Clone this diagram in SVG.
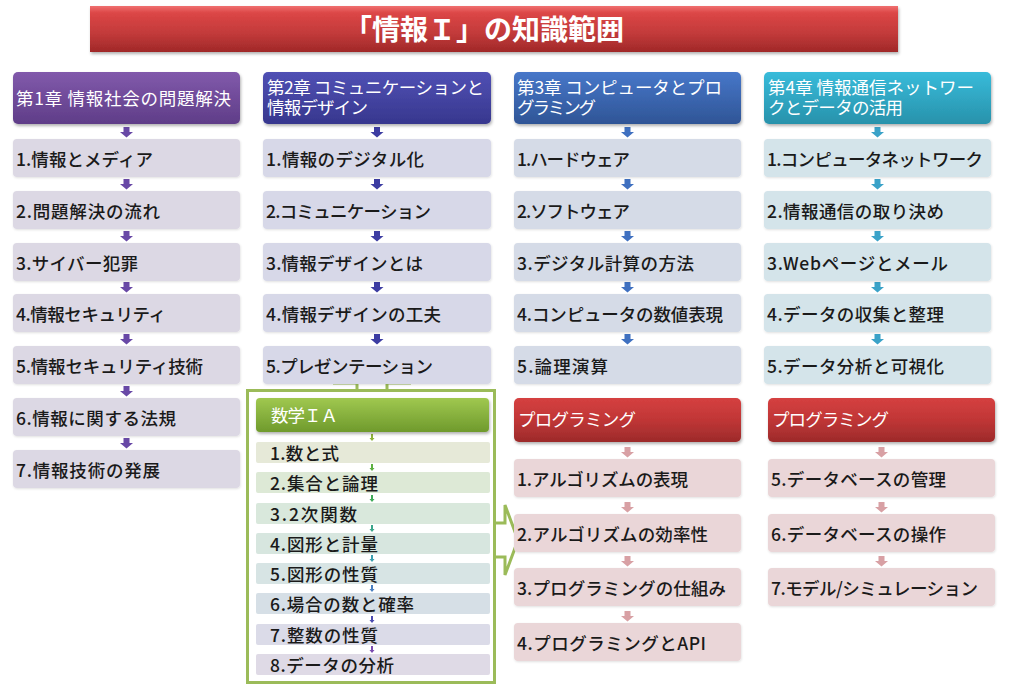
<svg xmlns="http://www.w3.org/2000/svg" width="1024" height="687" viewBox="0 0 1024 687">
<defs>
<linearGradient id="gTitle" x1="0" y1="0" x2="0" y2="1"><stop offset="0" stop-color="#f07070"/><stop offset="0.15" stop-color="#dc4646"/><stop offset="0.6" stop-color="#c23a3a"/><stop offset="1" stop-color="#a02828"/></linearGradient>
<linearGradient id="g1" x1="0" y1="0" x2="0" y2="1"><stop offset="0" stop-color="#8159ab"/><stop offset="1" stop-color="#5f3d88"/></linearGradient>
<linearGradient id="g2" x1="0" y1="0" x2="0" y2="1"><stop offset="0" stop-color="#5050b4"/><stop offset="1" stop-color="#37378e"/></linearGradient>
<linearGradient id="g3" x1="0" y1="0" x2="0" y2="1"><stop offset="0" stop-color="#4777c9"/><stop offset="1" stop-color="#2f5596"/></linearGradient>
<linearGradient id="g4" x1="0" y1="0" x2="0" y2="1"><stop offset="0" stop-color="#38bbda"/><stop offset="1" stop-color="#2892ab"/></linearGradient>
<linearGradient id="gP" x1="0" y1="0" x2="0" y2="1"><stop offset="0" stop-color="#d54040"/><stop offset="0.5" stop-color="#c03636"/><stop offset="1" stop-color="#9c2a2a"/></linearGradient>
<linearGradient id="gM" x1="0" y1="0" x2="0" y2="1"><stop offset="0" stop-color="#a0c850"/><stop offset="1" stop-color="#6f9a2c"/></linearGradient>
<filter id="sh" x="-5%" y="-10%" width="110%" height="130%"><feDropShadow dx="1" dy="2" stdDeviation="1.5" flood-color="#000" flood-opacity="0.3"/></filter>
<filter id="shl" x="-5%" y="-10%" width="110%" height="130%"><feDropShadow dx="0.5" dy="1" stdDeviation="1" flood-color="#000" flood-opacity="0.12"/></filter>
<path id="arr" d="M-3,0 h6 v5 h3.5 l-6.5,5.5 l-6.5,-5.5 h3.5 z"/>
<path id="tarr" d="M-1,0 h2 v4 h1.5 l-2.5,3 l-2.5,-3 h1.5 z"/>
</defs>
<style>
text{font-family:"Noto Sans CJK JP","Noto Sans",sans-serif;}
.ttl{font-size:28px;font-weight:bold;fill:#fff;}
.hd{font-size:17.5px;font-weight:normal;fill:#fff;}
.it{font-size:17.5px;font-weight:500;fill:#1a1a1a;}
.mt{font-size:17.5px;font-weight:500;fill:#1a1a1a;}
.hbox{filter:url(#sh);}
.ibox{filter:url(#shl);}
</style>
<rect width="1024" height="687" fill="#fff"/>

<g id="title">
<rect x="90" y="6" width="808" height="46" fill="url(#gTitle)" filter="url(#sh)"/>
<text class="ttl" x="484" y="40" text-anchor="middle">「情報Ｉ」の知識範囲</text>
</g>

<g id="connectors">
<g fill="#6848a6">
<use href="#arr" x="126.5" y="127"/><use href="#arr" x="126.5" y="179"/><use href="#arr" x="126.5" y="231"/><use href="#arr" x="126.5" y="282"/><use href="#arr" x="126.5" y="334"/><use href="#arr" x="126.5" y="386"/><use href="#arr" x="126.5" y="438"/>
</g>
<g fill="#3c3ca2">
<use href="#arr" x="377" y="127"/><use href="#arr" x="377" y="179"/><use href="#arr" x="377" y="231"/><use href="#arr" x="377" y="282"/><use href="#arr" x="377" y="334"/>
</g>
<g fill="#3f70c0">
<use href="#arr" x="627.5" y="127"/><use href="#arr" x="627.5" y="179"/><use href="#arr" x="627.5" y="231"/><use href="#arr" x="627.5" y="282"/><use href="#arr" x="627.5" y="334"/>
</g>
<g fill="#3aa2c8">
<use href="#arr" x="877.5" y="127"/><use href="#arr" x="877.5" y="179"/><use href="#arr" x="877.5" y="231"/><use href="#arr" x="877.5" y="282"/><use href="#arr" x="877.5" y="334"/>
</g>
<g fill="#d8a0a4">
<use href="#arr" x="627.5" y="447"/><use href="#arr" x="627.5" y="502"/><use href="#arr" x="627.5" y="556"/><use href="#arr" x="627.5" y="611"/>
<use href="#arr" x="881.5" y="447"/><use href="#arr" x="881.5" y="502"/><use href="#arr" x="881.5" y="556"/>
</g>
<use href="#tarr" x="372" y="434" fill="#8db33a"/>
<use href="#tarr" x="372" y="464" fill="#5cb040"/>
<use href="#tarr" x="372" y="495" fill="#3faa5a"/>
<use href="#tarr" x="372" y="525" fill="#3aa58a"/>
<use href="#tarr" x="372" y="555" fill="#3a9fb0"/>
<use href="#tarr" x="372" y="585" fill="#4a7fc0"/>
<use href="#tarr" x="372" y="616" fill="#4a4ab0"/>
<use href="#tarr" x="372" y="646" fill="#7a4ab0"/>
<path d="M357,391 V383 H333 L372,372 L411,383 H387 V391" fill="#fff" stroke="#9bbb59" stroke-width="3" stroke-linejoin="miter"/>
<path d="M494,523 H505 V505 L518,540 L505,575 V557 H494" fill="#fff" stroke="#9bbb59" stroke-width="3" stroke-linejoin="miter"/>
</g>

<g id="chapter1">
<rect class="hbox" x="13" y="72" width="227" height="52" rx="5" fill="url(#g1)"/>
<text class="hd" x="16" y="105" textLength="215" lengthAdjust="spacing">第1章 情報社会の問題解決</text>
</g>
<g id="c1-items" fill="#dcd8e4">
<g id="c1i1"><rect class="ibox" x="13" y="139" width="227" height="38" rx="4"/><text class="it" x="16" y="166" textLength="137" lengthAdjust="spacing">1.情報とメディア</text></g>
<g id="c1i2"><rect class="ibox" x="13" y="191" width="227" height="38" rx="4"/><text class="it" x="16" y="218" textLength="144" lengthAdjust="spacing">2.問題解決の流れ</text></g>
<g id="c1i3"><rect class="ibox" x="13" y="243" width="227" height="38" rx="4"/><text class="it" x="16" y="270" textLength="122" lengthAdjust="spacing">3.サイバー犯罪</text></g>
<g id="c1i4"><rect class="ibox" x="13" y="294" width="227" height="38" rx="4"/><text class="it" x="16" y="321" textLength="150" lengthAdjust="spacing">4.情報セキュリティ</text></g>
<g id="c1i5"><rect class="ibox" x="13" y="346" width="227" height="38" rx="4"/><text class="it" x="16" y="373" textLength="187" lengthAdjust="spacing">5.情報セキュリティ技術</text></g>
<g id="c1i6"><rect class="ibox" x="13" y="398" width="227" height="38" rx="4"/><text class="it" x="16" y="425" textLength="160" lengthAdjust="spacing">6.情報に関する法規</text></g>
<g id="c1i7"><rect class="ibox" x="13" y="450" width="227" height="38" rx="4"/><text class="it" x="16" y="477" textLength="144" lengthAdjust="spacing">7.情報技術の発展</text></g>
</g>

<g id="chapter2">
<rect class="hbox" x="263" y="72" width="228" height="52" rx="5" fill="url(#g2)"/>
<text class="hd"><tspan x="267" y="94" textLength="217" lengthAdjust="spacing">第2章 コミュニケーションと</tspan><tspan x="267" y="114" textLength="101" lengthAdjust="spacing">情報デザイン</tspan></text>
</g>
<g id="c2-items" fill="#d7d8e8">
<g id="c2i1"><rect class="ibox" x="263" y="139" width="228" height="38" rx="4"/><text class="it" x="266" y="166" textLength="158" lengthAdjust="spacing">1.情報のデジタル化</text></g>
<g id="c2i2"><rect class="ibox" x="263" y="191" width="228" height="38" rx="4"/><text class="it" x="266" y="218" textLength="165" lengthAdjust="spacing">2.コミュニケーション</text></g>
<g id="c2i3"><rect class="ibox" x="263" y="243" width="228" height="38" rx="4"/><text class="it" x="266" y="270" textLength="157" lengthAdjust="spacing">3.情報デザインとは</text></g>
<g id="c2i4"><rect class="ibox" x="263" y="294" width="228" height="38" rx="4"/><text class="it" x="266" y="321" textLength="175" lengthAdjust="spacing">4.情報デザインの工夫</text></g>
<g id="c2i5"><rect class="ibox" x="263" y="346" width="228" height="38" rx="4"/><text class="it" x="266" y="373" textLength="167" lengthAdjust="spacing">5.プレゼンテーション</text></g>
</g>

<g id="chapter3">
<rect class="hbox" x="514" y="72" width="227" height="52" rx="5" fill="url(#g3)"/>
<text class="hd"><tspan x="517" y="94" textLength="205" lengthAdjust="spacing">第3章 コンピュータとプロ</tspan><tspan x="517" y="114" textLength="79" lengthAdjust="spacing">グラミング</tspan></text>
</g>
<g id="c3-items" fill="#d5dbe7">
<g id="c3i1"><rect class="ibox" x="514" y="139" width="227" height="38" rx="4"/><text class="it" x="517" y="166" textLength="113" lengthAdjust="spacing">1.ハードウェア</text></g>
<g id="c3i2"><rect class="ibox" x="514" y="191" width="227" height="38" rx="4"/><text class="it" x="517" y="218" textLength="113" lengthAdjust="spacing">2.ソフトウェア</text></g>
<g id="c3i3"><rect class="ibox" x="514" y="243" width="227" height="38" rx="4"/><text class="it" x="517" y="270" textLength="177" lengthAdjust="spacing">3.デジタル計算の方法</text></g>
<g id="c3i4"><rect class="ibox" x="514" y="294" width="227" height="38" rx="4"/><text class="it" x="517" y="321" textLength="206" lengthAdjust="spacing">4.コンピュータの数値表現</text></g>
<g id="c3i5"><rect class="ibox" x="514" y="346" width="227" height="38" rx="4"/><text class="it" x="517" y="373" textLength="91" lengthAdjust="spacing">5.論理演算</text></g>
</g>

<g id="chapter4">
<rect class="hbox" x="764" y="72" width="227" height="52" rx="5" fill="url(#g4)"/>
<text class="hd"><tspan x="768" y="94" textLength="206" lengthAdjust="spacing">第4章 情報通信ネットワー</tspan><tspan x="768" y="114" textLength="135" lengthAdjust="spacing">クとデータの活用</tspan></text>
</g>
<g id="c4-items" fill="#d4e4ea">
<g id="c4i1"><rect class="ibox" x="764" y="139" width="227" height="38" rx="4"/><text class="it" x="767" y="166" textLength="216" lengthAdjust="spacing">1.コンピュータネットワーク</text></g>
<g id="c4i2"><rect class="ibox" x="764" y="191" width="227" height="38" rx="4"/><text class="it" x="767" y="218" textLength="177" lengthAdjust="spacing">2.情報通信の取り決め</text></g>
<g id="c4i3"><rect class="ibox" x="764" y="243" width="227" height="38" rx="4"/><text class="it" x="767" y="270" textLength="181" lengthAdjust="spacing">3.Webページとメール</text></g>
<g id="c4i4"><rect class="ibox" x="764" y="294" width="227" height="38" rx="4"/><text class="it" x="767" y="321" textLength="177" lengthAdjust="spacing">4.データの収集と整理</text></g>
<g id="c4i5"><rect class="ibox" x="764" y="346" width="227" height="38" rx="4"/><text class="it" x="767" y="373" textLength="177" lengthAdjust="spacing">5.データ分析と可視化</text></g>
</g>

<g id="prog3">
<rect class="hbox" x="514" y="398" width="227" height="44" rx="5" fill="url(#gP)"/>
<text class="hd" x="518" y="426" textLength="118" lengthAdjust="spacing">プログラミング</text>
</g>
<g id="p3-items" fill="#ead6d8">
<g id="p3i1"><rect class="ibox" x="514" y="459" width="227" height="38" rx="4"/><text class="it" x="517" y="486" textLength="171" lengthAdjust="spacing">1.アルゴリズムの表現</text></g>
<g id="p3i2"><rect class="ibox" x="514" y="514" width="227" height="38" rx="4"/><text class="it" x="517" y="541" textLength="191" lengthAdjust="spacing">2.アルゴリズムの効率性</text></g>
<g id="p3i3"><rect class="ibox" x="514" y="568" width="227" height="38" rx="4"/><text class="it" x="517" y="595" textLength="209" lengthAdjust="spacing">3.プログラミングの仕組み</text></g>
<g id="p3i4"><rect class="ibox" x="514" y="623" width="227" height="38" rx="4"/><text class="it" x="517" y="650" textLength="189" lengthAdjust="spacing">4.プログラミングとAPI</text></g>
</g>

<g id="prog4">
<rect class="hbox" x="768" y="398" width="227" height="44" rx="5" fill="url(#gP)"/>
<text class="hd" x="772" y="426" textLength="117" lengthAdjust="spacing">プログラミング</text>
</g>
<g id="p4-items" fill="#ead6d8">
<g id="p4i5"><rect class="ibox" x="768" y="459" width="227" height="38" rx="4"/><text class="it" x="771" y="486" textLength="175" lengthAdjust="spacing">5.データベースの管理</text></g>
<g id="p4i6"><rect class="ibox" x="768" y="514" width="227" height="38" rx="4"/><text class="it" x="771" y="541" textLength="175" lengthAdjust="spacing">6.データベースの操作</text></g>
<g id="p4i7"><rect class="ibox" x="768" y="568" width="227" height="38" rx="4"/><text class="it" x="771" y="595" textLength="207" lengthAdjust="spacing">7.モデル/シミュレーション</text></g>
</g>

<g id="math">
<rect x="247.5" y="390.5" width="247" height="292" fill="none" stroke="#9bbb59" stroke-width="3"/>
<g id="math-header"><rect class="hbox" x="256" y="398" width="233" height="34" rx="4" fill="url(#gM)"/><text class="hd" x="271" y="422" textLength="67" lengthAdjust="spacing">数学ＩＡ</text></g>
<g id="m1"><rect x="256" y="442" width="234" height="21" rx="2" fill="#e6e9d8"/><text class="mt" x="270" y="460" textLength="69" lengthAdjust="spacing">1.数と式</text></g>
<g id="m2"><rect x="256" y="472" width="234" height="21" rx="2" fill="#dde9d6"/><text class="mt" x="270" y="490" textLength="108" lengthAdjust="spacing">2.集合と論理</text></g>
<g id="m3"><rect x="256" y="503" width="234" height="21" rx="2" fill="#d9e8dc"/><text class="mt" x="270" y="521" textLength="87" lengthAdjust="spacing">3.2次関数</text></g>
<g id="m4"><rect x="256" y="533" width="234" height="21" rx="2" fill="#d7e6df"/><text class="mt" x="270" y="551" textLength="108" lengthAdjust="spacing">4.図形と計量</text></g>
<g id="m5"><rect x="256" y="563" width="234" height="21" rx="2" fill="#d7e4e4"/><text class="mt" x="270" y="581" textLength="108" lengthAdjust="spacing">5.図形の性質</text></g>
<g id="m6"><rect x="256" y="593" width="234" height="21" rx="2" fill="#d6dfe6"/><text class="mt" x="270" y="611" textLength="144" lengthAdjust="spacing">6.場合の数と確率</text></g>
<g id="m7"><rect x="256" y="624" width="234" height="21" rx="2" fill="#dbdbe8"/><text class="mt" x="270" y="642" textLength="108" lengthAdjust="spacing">7.整数の性質</text></g>
<g id="m8"><rect x="256" y="654" width="234" height="21" rx="2" fill="#dfdae6"/><text class="mt" x="270" y="672" textLength="124" lengthAdjust="spacing">8.データの分析</text></g>
</g>
</svg>
